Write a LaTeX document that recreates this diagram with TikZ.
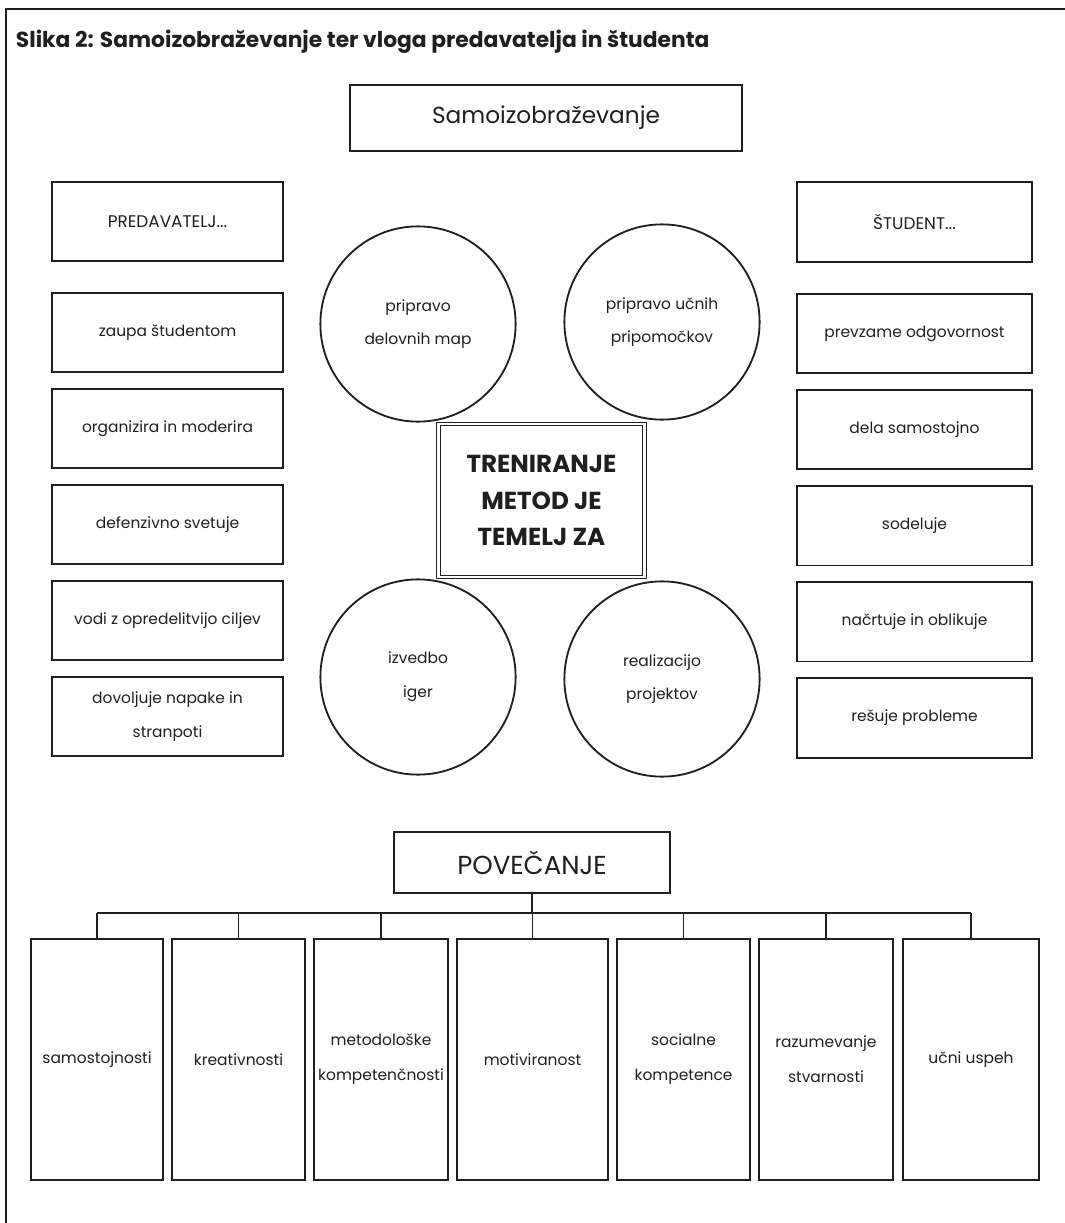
\documentclass[tikz,border=0pt]{standalone}
\usepackage{fontspec}
\setmainfont{Poppins}
\usetikzlibrary{positioning}

\definecolor{ink}{gray}{0.12}
\tikzset{
  sidebox/.style={draw=ink, line width=1.3pt, minimum width=5.78cm, minimum height=1.98cm,
    align=center, inner sep=1pt, font=\fontsize{11}{24}\selectfont, text=ink},
  mapcircle/.style={draw=ink, circle, line width=1.3pt, minimum size=4.88cm,
    align=center, inner sep=1pt, font=\fontsize{11}{24}\selectfont, text=ink},
  gainbox/.style={draw=ink, line width=1.3pt, minimum height=6.03cm,
    align=center, inner sep=0.5pt, font=\fontsize{11}{25}\selectfont, text=ink},
  headbox/.style={draw=ink, line width=1.3pt, align=center, text=ink}
}

\begin{document}
\begin{tikzpicture}[x=0.025cm, y=-0.025cm]
\useasboundingbox (0,0) rectangle (1065,1223);

% frame and title
\draw[ink, line width=1.3pt] (6,1223) -- (6,9) -- (1065,9);
\node[anchor=west, text=ink, font=\fontsize{15.5}{18}\selectfont\bfseries] (title) at (11,42)
  {Slika 2: Samoizobraževanje ter vloga predavatelja in študenta};

% top box
\node[headbox, minimum width=9.8cm, minimum height=1.65cm, font=\fontsize{16.5}{20}\selectfont]
  (sam) at (546,118) {Samoizobraževanje};

% left column
\node[sidebox, font=\fontsize{12}{14}\selectfont] (pred) at (167.5,221.5) {PREDAVATELJ...};
\foreach \t [count=\i] in {zaupa študentom, organizira in moderira, defenzivno svetuje,
    vodi z opredelitvijo ciljev, {dovoljuje napake in\\stranpoti}}
  \node[sidebox] (p\i) at (167.5,236.5+96*\i) {\t};

% right column
\node[sidebox, minimum width=5.88cm, font=\fontsize{12}{14}\selectfont] (stud) at (914.5,222) {ŠTUDENT...};
\foreach \t [count=\i] in {prevzame odgovornost, dela samostojno, sodeluje,
    načrtuje in oblikuje, rešuje probleme}
  \node[sidebox, minimum width=5.88cm] (s\i) at (914.5,237.5+96.1*\i) {\t};

% circles
\node[mapcircle] (c1) at (418,324) {pripravo\\delovnih map};
\node[mapcircle] (c2) at (662,322) {pripravo učnih\\pripomočkov};
\node[mapcircle] (c3) at (418,677) {izvedbo\\iger};
\node[mapcircle] (c4) at (662,679) {realizacijo\\projektov};

% centre
\node[draw=ink, double, double distance=1.8pt, line width=0.7pt, minimum width=5.15cm,
  minimum height=3.82cm, align=center, text=ink, inner sep=1pt,
  font=\fontsize{17.5}{26}\selectfont\bfseries] (temelj) at (541.5,500.5)
  {TRENIRANJE\\METOD JE\\TEMELJ ZA};

% bottom
\node[headbox, minimum width=6.88cm, minimum height=1.53cm, font=\fontsize{18.5}{22}\selectfont]
  (povec) at (532,862.5) {POVEČANJE};

\node[gainbox, minimum width=3.3cm] (b1) at (97,1059.5) {samostojnosti};
\node[gainbox, minimum width=3.33cm] (b2) at (238.5,1059.5) {kreativnosti};
\node[gainbox, minimum width=3.35cm] (b3) at (381,1059.5) {metodološke\\kompetenčnosti};
\node[gainbox, minimum width=3.78cm] (b4) at (532.5,1059.5) {motiviranost};
\node[gainbox, minimum width=3.33cm] (b5) at (683.5,1059.5) {socialne\\kompetence};
\node[gainbox, minimum width=3.35cm] (b6) at (826,1059.5) {razumevanje\\stvarnosti};
\node[gainbox, minimum width=3.4cm] (b7) at (971,1059.5) {učni uspeh};

\coordinate (bus) at (0,913);
\draw[ink, line width=1.1pt] (b1.north |- bus) -- (b7.north |- bus);
\draw[ink, line width=1.1pt] (povec.south) -- (povec.south |- bus);
\foreach \i in {1,...,7}
  \draw[ink, line width=1.1pt] (b\i.north) -- (b\i.north |- bus);
\end{tikzpicture}
\end{document}
